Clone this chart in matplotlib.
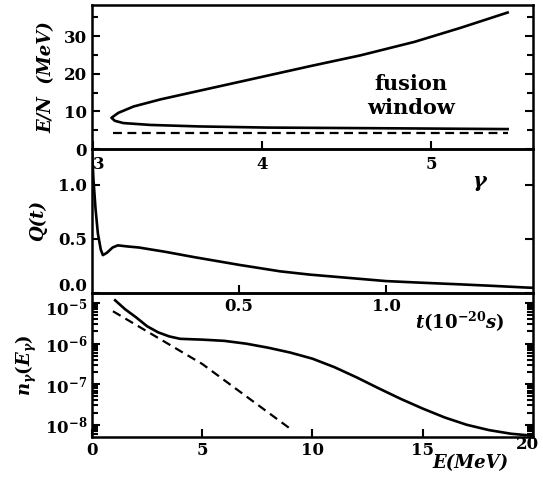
import numpy as np
import matplotlib
matplotlib.use("Agg")
import matplotlib.pyplot as plt
import matplotlib.ticker as mticker
import matplotlib.transforms as mtransforms

plt.rcParams.update({
    "font.family": "serif",
    "font.serif": ["DejaVu Serif"],
    "font.weight": "bold",
    "axes.labelweight": "bold",
    "font.size": 12,
    "mathtext.fontset": "custom",
    "mathtext.rm": "DejaVu Serif:bold",
    "mathtext.it": "DejaVu Serif:italic:bold",
    "mathtext.bf": "DejaVu Serif:bold",
    "mathtext.default": "rm",
    "axes.linewidth": 1.8,
    "xtick.direction": "in",
    "ytick.direction": "in",
})

# --- panel 1: E/N vs gamma ---
gam_upper = [3.11, 3.15, 3.24, 3.40, 3.63, 4.00, 4.30, 4.58, 4.90, 5.17, 5.45]
en_upper = [8.3, 9.6, 11.3, 13.2, 15.5, 19.2, 22.2, 24.9, 28.5, 32.2, 36.3]
gam_lower = [3.11, 3.13, 3.18, 3.34, 3.63, 4.03, 4.78, 5.45]
en_lower = [8.3, 7.5, 6.9, 6.4, 6.0, 5.7, 5.5, 5.3]
gam_dash = [3.12, 5.45]
en_dash = [4.3, 4.3]

# --- panel 2: Q(t) ---
t_q = [0.0, 0.005, 0.012, 0.02, 0.03, 0.037, 0.05, 0.07, 0.088, 0.12, 0.16,
       0.25, 0.35, 0.5, 0.57, 0.64, 0.74, 0.87, 1.0, 1.12, 1.25, 1.37, 1.48, 1.5]
q_val = [1.32, 1.05, 0.78, 0.55, 0.40, 0.35, 0.37, 0.42, 0.44, 0.43, 0.42,
         0.38, 0.33, 0.26, 0.23, 0.20, 0.17, 0.14, 0.11, 0.095, 0.08, 0.065, 0.05, 0.048]

# --- panel 3: photon spectrum (log10) ---
e_sol = [1.05, 1.5, 2.0, 2.5, 3.0, 3.5, 4.0, 5.0, 6.0, 7.0, 8.0, 9.0, 10.0,
         11.0, 12.0, 13.0, 14.0, 15.0, 16.0, 17.0, 18.0, 19.0, 20.0]
logn_sol = [-4.93, -5.15, -5.35, -5.57, -5.72, -5.82, -5.88, -5.90, -5.93, -6.00,
            -6.10, -6.22, -6.37, -6.58, -6.83, -7.10, -7.36, -7.60, -7.82, -8.00,
            -8.13, -8.22, -8.27]
e_dash = [0.95, 5.0, 9.0]
logn_dash = [-5.2, -6.5, -8.1]

fig = plt.figure(figsize=(5.43, 4.82), dpi=100)
gs = fig.add_gridspec(3, 1, left=0.1694, right=0.9816, top=0.9896, bottom=0.0934, hspace=0)
ax1 = fig.add_subplot(gs[0])
ax2 = fig.add_subplot(gs[1])
ax3 = fig.add_subplot(gs[2])
for ax in (ax1, ax2, ax3):
    ax.patch.set_alpha(0)
    ax.tick_params(which="both", width=1.5, labelsize=12)
    ax.tick_params(which="major", length=6)
    ax.tick_params(which="minor", length=4)


def nudge(label, dx, dy):
    label.set_transform(label.get_transform() +
                        mtransforms.ScaledTranslation(dx / 100, dy / 100, fig.dpi_scale_trans))


lw = 1.9
# panel 1
ax1.plot(gam_lower[::-1] + gam_upper[1:], en_lower[::-1] + en_upper[1:], color="black", lw=lw)
ax1.plot(gam_dash, en_dash, color="black", lw=1.6, ls=(0, (4, 2.5)))
ax1.set_xlim(2.995, 5.6)
ax1.set_ylim(0, 38.3)
ax1.set_xticks([3, 4, 5])
ax1.set_yticks([0, 10, 20, 30])
ax1.yaxis.set_minor_locator(mticker.MultipleLocator(5))
ax1.tick_params(axis="y", which="both", right=True)
ax1.tick_params(axis="x", pad=5)
ax1.get_xticklabels()[0].set_ha("left")
ax1.set_ylabel("E/N  (MeV)", fontsize=13, style="italic", labelpad=6)
ax1.text(4.88, 14.2, "fusion\nwindow", ha="center", va="center", fontsize=15,
         fontweight="bold", linespacing=1.25)

# panel 2
ax2.plot(t_q, q_val, color="black", lw=lw)
ax2.set_xlim(0, 1.5)
ax2.set_ylim(0, 1.33)
ax2.set_xticks([0.5, 1.0])
ax2.xaxis.set_major_formatter(mticker.FormatStrFormatter("%.1f"))
ax2.set_yticks([0.0, 0.5, 1.0])
ax2.yaxis.set_major_formatter(mticker.FormatStrFormatter("%.1f"))
ax2.tick_params(axis="y", which="both", right=True)
ax2.set_ylabel("Q(t)", fontsize=13, style="italic", labelpad=8)

# panel 3
ax3.semilogy(e_sol, 10.0 ** np.array(logn_sol), color="black", lw=lw)
ax3.semilogy(e_dash, 10.0 ** np.array(logn_dash), color="black", lw=1.6, ls=(0, (4, 2.5)))
ax3.set_xlim(0, 20)
ax3.set_ylim(10 ** -8.3, 10 ** -4.75)
ax3.set_yticks([1e-8, 1e-7, 1e-6, 1e-5])
ax3.set_xticks([0, 5, 10, 15, 20])
ax3.yaxis.set_minor_locator(mticker.LogLocator(base=10, subs=np.arange(2, 10), numticks=10))
ax3.yaxis.set_minor_formatter(mticker.NullFormatter())
ax3.tick_params(axis="y", which="both", right=True)
ax3.set_ylabel(r"$\mathit{n_\gamma(E_\gamma)}$", fontsize=13, labelpad=4)

fig.canvas.draw()
nudge(ax2.get_yticklabels()[0], 0, 8)
nudge(ax3.get_yticklabels()[-1], 0, -3)
nudge(ax3.get_xticklabels()[-1], -6, 6)

fig.text(480 / 543, 1 - 183 / 482, r"$\mathit{\gamma}$", fontsize=15, ha="center", va="center")
fig.text(460 / 543, 1 - 322 / 482, r"$\mathit{t(10^{-20}s)}$", fontsize=13, ha="center", va="center")
fig.text(470 / 543, 1 - 463 / 482, "E(MeV)", fontsize=13, style="italic", ha="center", va="center")

fig.savefig("out.png", dpi=100)
